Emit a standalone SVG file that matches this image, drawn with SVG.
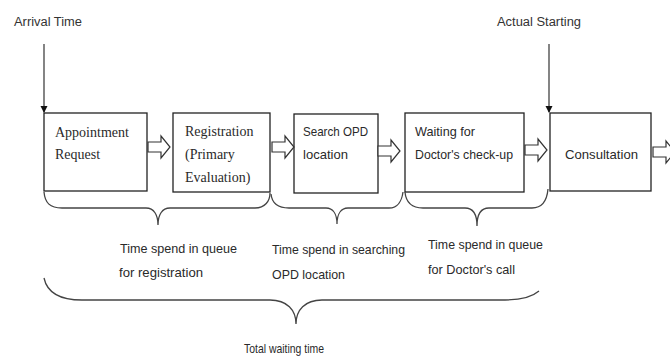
<svg xmlns="http://www.w3.org/2000/svg" width="670" height="358" viewBox="0 0 670 358">
<style>
.box{fill:#fff;stroke:#222;stroke-width:1.3}
.serif{font-family:"Liberation Serif","Times New Roman",serif;font-size:14px;fill:#2a2a2a}
.sans{font-family:"Liberation Sans",Arial,sans-serif;font-size:13px;fill:#2a2a2a}
.small{font-family:"Liberation Sans",Arial,sans-serif;font-size:12px;fill:#333}
.brace{fill:none;stroke:#444;stroke-width:1.3}
.blk{fill:#fff;stroke:#333;stroke-width:1.2}
.vline{stroke:#333;stroke-width:1.2;fill:none}
</style>
<defs>
<marker id="ah" markerWidth="8" markerHeight="8" refX="6" refY="4" orient="auto" markerUnits="userSpaceOnUse">
<path d="M0,0.5 L7,4 L0,7.5 Z" fill="#111"/>
</marker>
<path id="blockArrow" d="M0,-5 H13 V-11 L22,0 L13,11 V5 H0 Z"/>
</defs>
<rect width="670" height="358" fill="#fff"/>

<g id="arrival-label"><text class="small" x="14" y="26" textLength="68" lengthAdjust="spacingAndGlyphs">Arrival Time</text></g>
<g id="actual-label"><text class="small" x="497" y="26" textLength="84" lengthAdjust="spacingAndGlyphs">Actual Starting</text></g>

<g id="node-appointment">
<rect class="box" x="44" y="113" width="103" height="78"/>
<text class="serif" x="55" y="137">Appointment</text>
<text class="serif" x="55" y="159">Request</text>
</g>
<g id="node-registration">
<rect class="box" x="173" y="113" width="97" height="79"/>
<text class="serif" x="185" y="136">Registration</text>
<text class="serif" x="185" y="159">(Primary</text>
<text class="serif" x="185" y="182">Evaluation)</text>
</g>
<g id="node-search">
<rect class="box" x="294" y="114" width="84" height="79"/>
<text class="sans" x="303" y="136" textLength="65" lengthAdjust="spacingAndGlyphs">Search OPD</text>
<text class="sans" x="303" y="159" textLength="45" lengthAdjust="spacingAndGlyphs">location</text>
</g>
<g id="node-waiting">
<rect class="box" x="405" y="113" width="119" height="79"/>
<text class="sans" x="415" y="136" textLength="60" lengthAdjust="spacingAndGlyphs">Waiting for</text>
<text class="sans" x="415" y="159" textLength="98" lengthAdjust="spacingAndGlyphs">Doctor's check-up</text>
</g>
<g id="node-consultation">
<rect class="box" x="550" y="113" width="101" height="78"/>
<text class="sans" x="565" y="159" textLength="73" lengthAdjust="spacingAndGlyphs">Consultation</text>
</g>

<g id="connectors">
<line class="vline" x1="44" y1="44" x2="44" y2="112" marker-end="url(#ah)"/>
<line class="vline" x1="549" y1="44" x2="549" y2="112" marker-end="url(#ah)"/>
<use href="#blockArrow" class="blk" transform="translate(148,147)"/>
<use href="#blockArrow" class="blk" transform="translate(272,147)"/>
<use href="#blockArrow" class="blk" transform="translate(378,151)"/>
<use href="#blockArrow" class="blk" transform="translate(525,150)"/>
<use href="#blockArrow" class="blk" transform="translate(653,152)"/>
<path class="brace" d="M44,192 C45,203 50,208 62,208 H146 C154,208 158,215 158,225 C158,215 162,208 170,208 H255 C265,208 270,201 270,193"/>
<path class="brace" d="M271,194 C272,204 278,208 289,208 H326 C333,208 337,214 337,224 C337,214 341,208 348,208 H389 C398,208 402,200 403,192"/>
<path class="brace" d="M405,192 C406,203 412,208 423,208 H465 C473,208 477,214 477,226 C477,214 481,208 489,208 H532 C542,208 547,200 548,189"/>
<path class="brace" d="M44,278 C47,292 58,300 82,300 H270 C287,300 296,310 296,324 C296,310 305,300 322,300 H505 C520,300 532,297 539,291"/>
</g>

<g id="label-reg"><text class="sans" x="120" y="253" textLength="117" lengthAdjust="spacingAndGlyphs">Time spend in queue</text>
<text class="sans" x="119" y="277" textLength="84" lengthAdjust="spacingAndGlyphs">for registration</text></g>
<g id="label-search"><text class="sans" x="272" y="254" textLength="133" lengthAdjust="spacingAndGlyphs">Time spend in searching</text>
<text class="sans" x="272" y="279" textLength="73" lengthAdjust="spacingAndGlyphs">OPD location</text></g>
<g id="label-doctor"><text class="sans" x="428" y="249" textLength="115" lengthAdjust="spacingAndGlyphs">Time spend in queue</text>
<text class="sans" x="428" y="274" textLength="87" lengthAdjust="spacingAndGlyphs">for Doctor's call</text></g>
<g id="label-total"><text class="sans" x="244" y="353" textLength="80" lengthAdjust="spacingAndGlyphs">Total waiting time</text></g>
</svg>
